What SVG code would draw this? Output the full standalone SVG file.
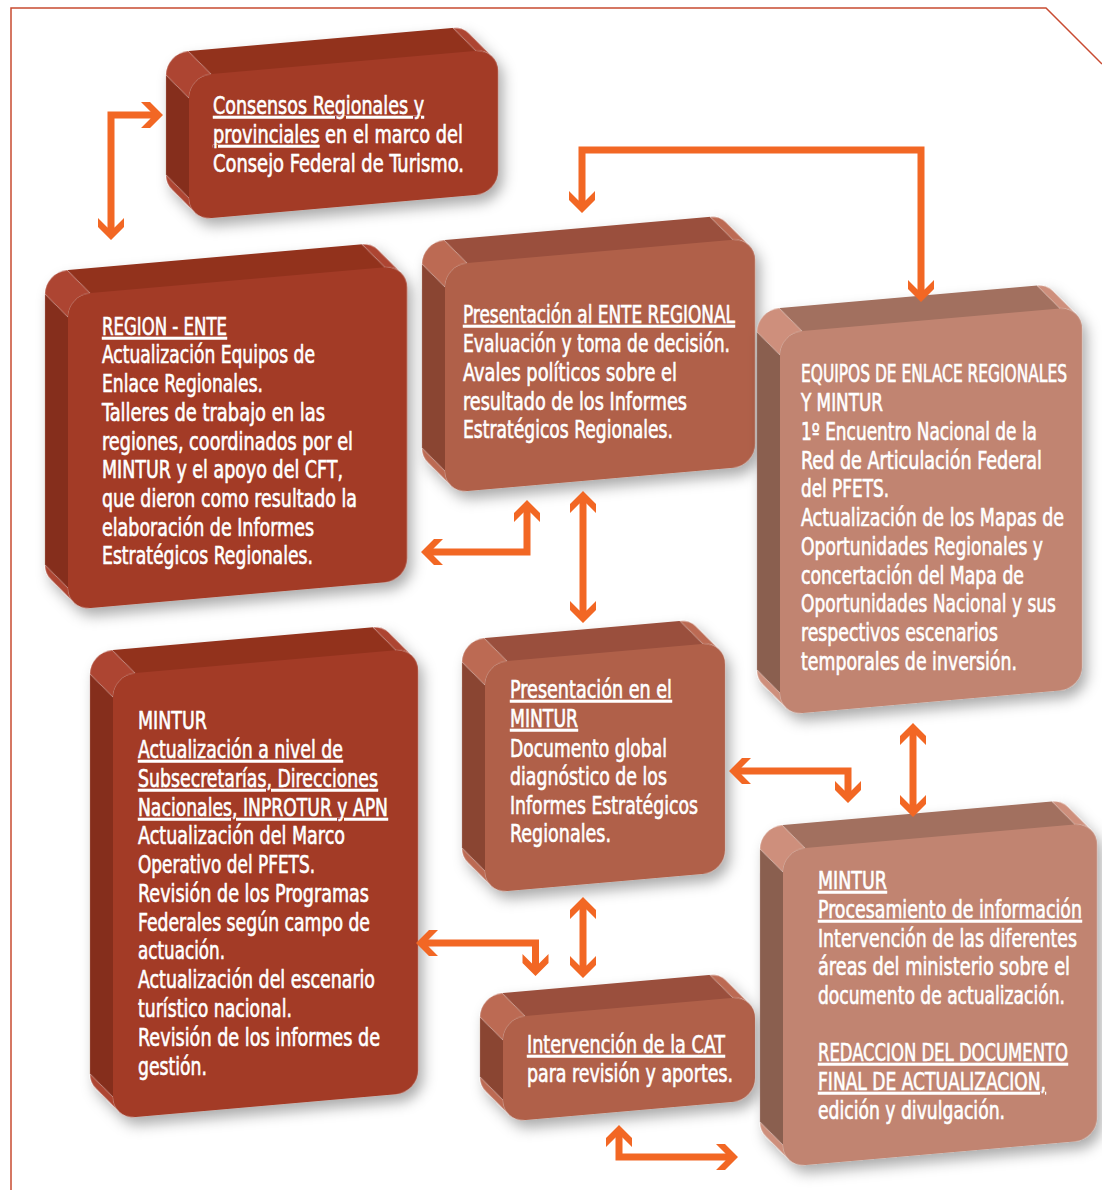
<svg xmlns="http://www.w3.org/2000/svg" width="1102" height="1190" viewBox="0 0 1102 1190">
<style>
.tx{font-family:"DejaVu Sans Condensed","DejaVu Sans",sans-serif;font-size:24px;fill:#fff;stroke:#fff;stroke-width:0.6}
.u{text-decoration:underline}
.dark .f{fill:#A33B27}.dark .t{fill:#92331F}.dark .l{fill:#852D1B}.dark .c{fill:#AD4430}
.mid .f{fill:#B0604A}.mid .t{fill:#9A503C}.mid .l{fill:#8A4533}.mid .c{fill:#BC6A53}
.light .f{fill:#C18471}.light .t{fill:#A2705E}.light .l{fill:#8A5E4F}.light .c{fill:#CE8F7B}
.c{stroke:#ffffff;stroke-opacity:0.35;stroke-width:0.7}
.conn{fill:none;stroke:#F26724;stroke-width:7;stroke-linejoin:miter;marker-start:url(#ah);marker-end:url(#ah)}
</style>
<defs>
<filter id="sh" x="-20%" y="-20%" width="150%" height="150%">
<feDropShadow dx="5" dy="8" stdDeviation="7" flood-color="#000" flood-opacity="0.33"/>
</filter>
<marker id="ah" markerUnits="userSpaceOnUse" orient="auto-start-reverse" markerWidth="40" markerHeight="40" viewBox="-20 -20 40 40" refX="0" refY="0" overflow="visible">
<polygon points="12,0 -1,-13 -10,-13 -0.5,-3.5 -0.5,3.5 -10,13 -1,13" fill="#F26724"/>
</marker>
</defs>
<rect width="1102" height="1190" fill="#fff"/>
<path d="M11,1190 V8 H1046 L1102,64" fill="none" stroke="#C84B31" stroke-width="1.5"/>

<g id="box-consensos">
<g class="dark" transform="translate(189,76) skewY(-5)" filter="url(#sh)">
<polygon class="t" points="-1,-25 264,-25 287,0 22,0"/>
<polygon class="l" points="-23,-3 0,22 0,122 -23,97"/>
<path class="c" d="M-23,-3 A22 22 0 0 1 -1,-25 L22,0 A22 22 0 0 0 0,22Z"/>
<path class="c" d="M264,-25 A22 22 0 0 1 279.56,-18.56 L302.56,6.44 A22 22 0 0 0 287,0Z"/>
<path class="c" d="M-23,97 A22 22 0 0 0 -16.56,112.56 L6.44,137.56 A22 22 0 0 1 0,122Z"/>
<rect class="f" width="309" height="144" rx="22"/>
</g>
<text class="tx" x="213" y="114" textLength="211" lengthAdjust="spacingAndGlyphs"><tspan class="u">Consensos Regionales y</tspan></text>
<text class="tx" x="213" y="143" textLength="250" lengthAdjust="spacingAndGlyphs"><tspan class="u">provinciales</tspan> en el marco del</text>
<text class="tx" x="213" y="172" textLength="251" lengthAdjust="spacingAndGlyphs">Consejo Federal de Turismo.</text>
</g>

<g id="box-region-ente">
<g class="dark" transform="translate(68,295) skewY(-5)" filter="url(#sh)">
<polygon class="t" points="-1,-25 294,-25 317,0 22,0"/>
<polygon class="l" points="-23,-3 0,22 0,293 -23,268"/>
<path class="c" d="M-23,-3 A22 22 0 0 1 -1,-25 L22,0 A22 22 0 0 0 0,22Z"/>
<path class="c" d="M294,-25 A22 22 0 0 1 309.56,-18.56 L332.56,6.44 A22 22 0 0 0 317,0Z"/>
<path class="c" d="M-23,268 A22 22 0 0 0 -16.56,283.56 L6.44,308.56 A22 22 0 0 1 0,293Z"/>
<rect class="f" width="339" height="315" rx="22"/>
</g>
<text class="tx" x="102" y="335" textLength="125" lengthAdjust="spacingAndGlyphs"><tspan class="u">REGION - ENTE</tspan></text>
<text class="tx" x="102" y="363" textLength="213" lengthAdjust="spacingAndGlyphs">Actualización Equipos de</text>
<text class="tx" x="102" y="392" textLength="161" lengthAdjust="spacingAndGlyphs">Enlace Regionales.</text>
<text class="tx" x="102" y="421" textLength="223" lengthAdjust="spacingAndGlyphs">Talleres de trabajo en las</text>
<text class="tx" x="102" y="450" textLength="251" lengthAdjust="spacingAndGlyphs">regiones, coordinados por el</text>
<text class="tx" x="102" y="478" textLength="241" lengthAdjust="spacingAndGlyphs">MINTUR y el apoyo del CFT,</text>
<text class="tx" x="102" y="507" textLength="255" lengthAdjust="spacingAndGlyphs">que dieron como resultado la</text>
<text class="tx" x="102" y="536" textLength="212" lengthAdjust="spacingAndGlyphs">elaboración de Informes</text>
<text class="tx" x="102" y="564" textLength="211" lengthAdjust="spacingAndGlyphs">Estratégicos Regionales.</text>
</g>

<g id="box-mintur-actualizacion">
<g class="dark" transform="translate(113,675) skewY(-5)" filter="url(#sh)">
<polygon class="t" points="-1,-25 260,-25 283,0 22,0"/>
<polygon class="l" points="-23,-3 0,22 0,422 -23,397"/>
<path class="c" d="M-23,-3 A22 22 0 0 1 -1,-25 L22,0 A22 22 0 0 0 0,22Z"/>
<path class="c" d="M260,-25 A22 22 0 0 1 275.56,-18.56 L298.56,6.44 A22 22 0 0 0 283,0Z"/>
<path class="c" d="M-23,397 A22 22 0 0 0 -16.56,412.56 L6.44,437.56 A22 22 0 0 1 0,422Z"/>
<rect class="f" width="305" height="444" rx="22"/>
</g>
<text class="tx" x="138" y="729" textLength="69" lengthAdjust="spacingAndGlyphs">MINTUR</text>
<text class="tx" x="138" y="758" textLength="205" lengthAdjust="spacingAndGlyphs"><tspan class="u">Actualización a nivel de</tspan></text>
<text class="tx" x="138" y="787" textLength="240" lengthAdjust="spacingAndGlyphs"><tspan class="u">Subsecretarías, Direcciones</tspan></text>
<text class="tx" x="138" y="816" textLength="250" lengthAdjust="spacingAndGlyphs"><tspan class="u">Nacionales, INPROTUR y APN</tspan></text>
<text class="tx" x="138" y="844" textLength="207" lengthAdjust="spacingAndGlyphs">Actualización del Marco</text>
<text class="tx" x="138" y="873" textLength="177" lengthAdjust="spacingAndGlyphs">Operativo del PFETS.</text>
<text class="tx" x="138" y="902" textLength="231" lengthAdjust="spacingAndGlyphs">Revisión de los Programas</text>
<text class="tx" x="138" y="931" textLength="232" lengthAdjust="spacingAndGlyphs">Federales según campo de</text>
<text class="tx" x="138" y="959" textLength="87" lengthAdjust="spacingAndGlyphs">actuación.</text>
<text class="tx" x="138" y="988" textLength="237" lengthAdjust="spacingAndGlyphs">Actualización del escenario</text>
<text class="tx" x="138" y="1017" textLength="154" lengthAdjust="spacingAndGlyphs">turístico nacional.</text>
<text class="tx" x="138" y="1046" textLength="242" lengthAdjust="spacingAndGlyphs">Revisión de los informes de</text>
<text class="tx" x="138" y="1075" textLength="69" lengthAdjust="spacingAndGlyphs">gestión.</text>
</g>

<g id="box-ente-regional">
<g class="mid" transform="translate(445,265) skewY(-5)" filter="url(#sh)">
<polygon class="t" points="-1,-25 265,-25 288,0 22,0"/>
<polygon class="l" points="-23,-3 0,22 0,206 -23,181"/>
<path class="c" d="M-23,-3 A22 22 0 0 1 -1,-25 L22,0 A22 22 0 0 0 0,22Z"/>
<path class="c" d="M265,-25 A22 22 0 0 1 280.56,-18.56 L303.56,6.44 A22 22 0 0 0 288,0Z"/>
<path class="c" d="M-23,181 A22 22 0 0 0 -16.56,196.56 L6.44,221.56 A22 22 0 0 1 0,206Z"/>
<rect class="f" width="310" height="228" rx="22"/>
</g>
<text class="tx" x="463" y="323" textLength="272" lengthAdjust="spacingAndGlyphs"><tspan class="u">Presentación al ENTE REGIONAL</tspan></text>
<text class="tx" x="463" y="352" textLength="267" lengthAdjust="spacingAndGlyphs">Evaluación y toma de decisión.</text>
<text class="tx" x="463" y="381" textLength="214" lengthAdjust="spacingAndGlyphs">Avales políticos sobre el</text>
<text class="tx" x="463" y="410" textLength="224" lengthAdjust="spacingAndGlyphs">resultado de los Informes</text>
<text class="tx" x="463" y="438" textLength="210" lengthAdjust="spacingAndGlyphs">Estratégicos Regionales.</text>
</g>

<g id="box-presentacion-mintur">
<g class="mid" transform="translate(485,663) skewY(-5)" filter="url(#sh)">
<polygon class="t" points="-1,-25 195,-25 218,0 22,0"/>
<polygon class="l" points="-23,-3 0,22 0,208 -23,183"/>
<path class="c" d="M-23,-3 A22 22 0 0 1 -1,-25 L22,0 A22 22 0 0 0 0,22Z"/>
<path class="c" d="M195,-25 A22 22 0 0 1 210.56,-18.56 L233.56,6.44 A22 22 0 0 0 218,0Z"/>
<path class="c" d="M-23,183 A22 22 0 0 0 -16.56,198.56 L6.44,223.56 A22 22 0 0 1 0,208Z"/>
<rect class="f" width="240" height="230" rx="22"/>
</g>
<text class="tx" x="510" y="698" textLength="162" lengthAdjust="spacingAndGlyphs"><tspan class="u">Presentación en el</tspan></text>
<text class="tx" x="510" y="727" textLength="68" lengthAdjust="spacingAndGlyphs"><tspan class="u">MINTUR</tspan></text>
<text class="tx" x="510" y="757" textLength="157" lengthAdjust="spacingAndGlyphs">Documento global</text>
<text class="tx" x="510" y="785" textLength="157" lengthAdjust="spacingAndGlyphs">diagnóstico de los</text>
<text class="tx" x="510" y="814" textLength="188" lengthAdjust="spacingAndGlyphs">Informes Estratégicos</text>
<text class="tx" x="510" y="842" textLength="101" lengthAdjust="spacingAndGlyphs">Regionales.</text>
</g>

<g id="box-cat">
<g class="mid" transform="translate(503,1018) skewY(-5)" filter="url(#sh)">
<polygon class="t" points="-1,-25 207,-25 230,0 22,0"/>
<polygon class="l" points="-23,-3 0,22 0,82 -23,57"/>
<path class="c" d="M-23,-3 A22 22 0 0 1 -1,-25 L22,0 A22 22 0 0 0 0,22Z"/>
<path class="c" d="M207,-25 A22 22 0 0 1 222.56,-18.56 L245.56,6.44 A22 22 0 0 0 230,0Z"/>
<path class="c" d="M-23,57 A22 22 0 0 0 -16.56,72.56 L6.44,97.56 A22 22 0 0 1 0,82Z"/>
<rect class="f" width="252" height="104" rx="22"/>
</g>
<text class="tx" x="527" y="1053" textLength="198" lengthAdjust="spacingAndGlyphs"><tspan class="u">Intervención de la CAT</tspan></text>
<text class="tx" x="527" y="1082" textLength="206" lengthAdjust="spacingAndGlyphs">para revisión y aportes.</text>
</g>

<g id="box-equipos-enlace">
<g class="light" transform="translate(780,333) skewY(-5)" filter="url(#sh)">
<polygon class="t" points="-1,-25 257,-25 280,0 22,0"/>
<polygon class="l" points="-23,-3 0,22 0,360 -23,335"/>
<path class="c" d="M-23,-3 A22 22 0 0 1 -1,-25 L22,0 A22 22 0 0 0 0,22Z"/>
<path class="c" d="M257,-25 A22 22 0 0 1 272.56,-18.56 L295.56,6.44 A22 22 0 0 0 280,0Z"/>
<path class="c" d="M-23,335 A22 22 0 0 0 -16.56,350.56 L6.44,375.56 A22 22 0 0 1 0,360Z"/>
<rect class="f" width="302" height="382" rx="22"/>
</g>
<text class="tx" x="801" y="382" textLength="266" lengthAdjust="spacingAndGlyphs">EQUIPOS DE ENLACE REGIONALES</text>
<text class="tx" x="801" y="411" textLength="82" lengthAdjust="spacingAndGlyphs">Y MINTUR</text>
<text class="tx" x="801" y="440" textLength="236" lengthAdjust="spacingAndGlyphs">1º Encuentro Nacional de la</text>
<text class="tx" x="801" y="469" textLength="241" lengthAdjust="spacingAndGlyphs">Red de Articulación Federal</text>
<text class="tx" x="801" y="497" textLength="88" lengthAdjust="spacingAndGlyphs">del PFETS.</text>
<text class="tx" x="801" y="526" textLength="263" lengthAdjust="spacingAndGlyphs">Actualización de los Mapas de</text>
<text class="tx" x="801" y="555" textLength="242" lengthAdjust="spacingAndGlyphs">Oportunidades Regionales y</text>
<text class="tx" x="801" y="584" textLength="223" lengthAdjust="spacingAndGlyphs">concertación del Mapa de</text>
<text class="tx" x="801" y="612" textLength="255" lengthAdjust="spacingAndGlyphs">Oportunidades Nacional y sus</text>
<text class="tx" x="801" y="641" textLength="197" lengthAdjust="spacingAndGlyphs">respectivos escenarios</text>
<text class="tx" x="801" y="670" textLength="216" lengthAdjust="spacingAndGlyphs">temporales de inversión.</text>
</g>

<g id="box-mintur-procesamiento">
<g class="light" transform="translate(783,850) skewY(-5)" filter="url(#sh)">
<polygon class="t" points="-1,-25 269,-25 292,0 22,0"/>
<polygon class="l" points="-23,-3 0,22 0,295 -23,270"/>
<path class="c" d="M-23,-3 A22 22 0 0 1 -1,-25 L22,0 A22 22 0 0 0 0,22Z"/>
<path class="c" d="M269,-25 A22 22 0 0 1 284.56,-18.56 L307.56,6.44 A22 22 0 0 0 292,0Z"/>
<path class="c" d="M-23,270 A22 22 0 0 0 -16.56,285.56 L6.44,310.56 A22 22 0 0 1 0,295Z"/>
<rect class="f" width="314" height="317" rx="22"/>
</g>
<text class="tx" x="818" y="889" textLength="69" lengthAdjust="spacingAndGlyphs"><tspan class="u">MINTUR</tspan></text>
<text class="tx" x="818" y="918" textLength="264" lengthAdjust="spacingAndGlyphs"><tspan class="u">Procesamiento de información</tspan></text>
<text class="tx" x="818" y="947" textLength="259" lengthAdjust="spacingAndGlyphs">Intervención de las diferentes</text>
<text class="tx" x="818" y="975" textLength="252" lengthAdjust="spacingAndGlyphs">áreas del ministerio sobre el</text>
<text class="tx" x="818" y="1004" textLength="247" lengthAdjust="spacingAndGlyphs">documento de actualización.</text>
<text class="tx" x="818" y="1061" textLength="250" lengthAdjust="spacingAndGlyphs"><tspan class="u">REDACCION DEL DOCUMENTO</tspan></text>
<text class="tx" x="818" y="1090" textLength="228" lengthAdjust="spacingAndGlyphs"><tspan class="u">FINAL DE ACTUALIZACION,</tspan></text>
<text class="tx" x="818" y="1119" textLength="187" lengthAdjust="spacingAndGlyphs">edición y divulgación.</text>
</g>

<g id="connectors">
<path class="conn" d="M151,115 H111 V228"/>
<path class="conn" d="M582,201 V150 H921 V290"/>
<path class="conn" d="M527,512 V552 H433"/>
<path class="conn" d="M583,503 V611"/>
<path class="conn" d="M741,771 H848 V791"/>
<path class="conn" d="M913,735 V805"/>
<path class="conn" d="M428,943 H535.5 V964"/>
<path class="conn" d="M583,909 V966"/>
<path class="conn" d="M619,1137 V1157 H726"/>
</g>
</svg>
